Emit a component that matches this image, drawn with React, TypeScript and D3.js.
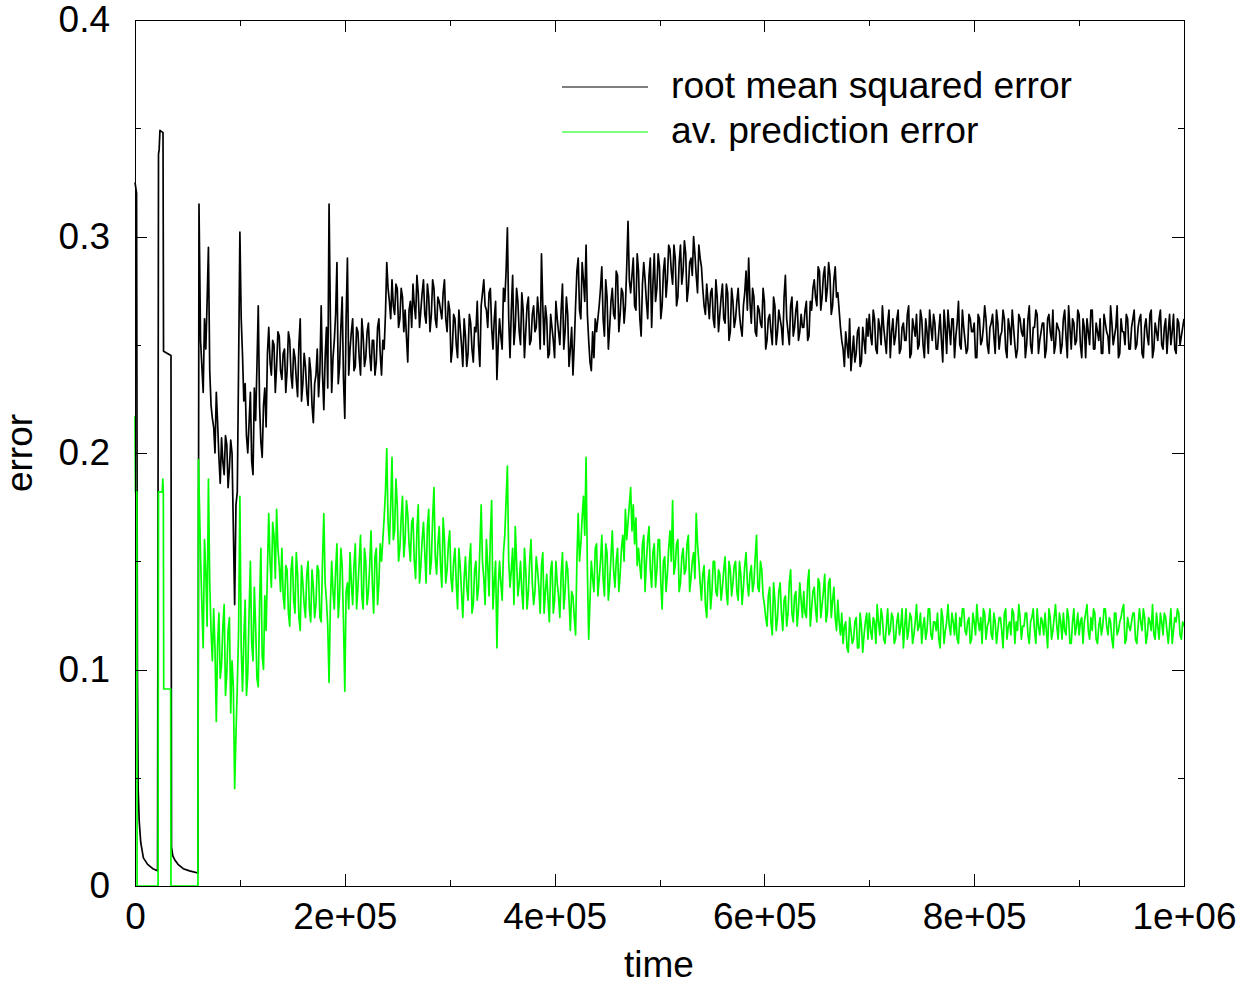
import React, { useEffect, useRef } from "react";
import * as d3 from "d3";

// start of the run, sampled where the curves jump
const rmseEarlyTime = [0, 1500, 2300, 3000, 4000, 5500, 8000, 12000, 17000, 21500, 22400, 23000, 23800, 26700, 27200, 34300, 34800, 36000, 38000, 41000, 46000, 52000, 60000, 61000];
const rmseEarlyValue = [0.325, 0.32, 0.1, 0.045, 0.03, 0.02, 0.013, 0.01, 0.008, 0.007, 0.338, 0.34, 0.349, 0.348, 0.247, 0.245, 0.018, 0.014, 0.012, 0.01, 0.008, 0.007, 0.006, 0.315];
const predEarlyTime = [0, 400, 1800, 2000, 22000, 22400, 26000, 26500, 27000, 27400, 34000, 34300, 60000, 60500];
const predEarlyValue = [0.217, 0.182, 0.182, 0, 0, 0.182, 0.182, 0.188, 0.182, 0.091, 0.091, 0, 0, 0.197];

// from t = 62500 on, readings every 2500 steps (values in 1e-3),
// plus the readings half a step later
const sampleStart = 62500;
const sampleStep = 2500;

const rmseMilli = [
  252, 228, 248, 295, 222,
  212, 228, 198, 207, 190, 204, 193, 200, 130, 182, 302,
  245, 232, 200, 228, 190, 215, 268, 205, 222, 212,
  258, 236, 250, 240, 254, 234, 248, 238, 252, 230, 244, 226, 262, 232, 240, 222, 238, 214, 236, 226, 268, 220, 258, 315,
  228, 252, 288, 240, 272, 216, 290,
  248, 262, 240, 256, 236, 254, 244, 260, 238, 252, 242, 262, 236, 248, 288,
  270, 280, 264, 276, 262, 272, 266, 242, 270,
  278, 262, 274, 266, 280, 260, 272, 264, 276, 258, 270, 262,
  280, 256, 266, 248, 262, 244, 258, 240, 254, 246, 260, 242, 256, 250, 268, 280,
  266, 274, 258, 262, 234,
  262, 248, 270, 304, 244, 282, 258, 270, 250, 266, 256, 272, 252, 268, 258, 264,
  292,
  250, 262, 246, 258, 244, 262, 250, 278, 256, 264,
  248, 236, 268, 290,
  262, 280, 296, 252, 238, 244,
  256, 268, 286, 254, 272, 258, 276, 262, 282, 264, 274, 268,
  307,
  274, 290, 266, 284, 254, 288, 270, 282, 258, 292, 276, 286, 268, 290, 280,
  294, 278, 290, 272, 296, 284, 292, 276, 290, 300, 282, 296,
  286, 268, 278,
  262, 276, 258, 272, 264, 278, 260, 274, 256, 270, 262, 276, 258, 268, 284, 290, 260, 272, 254, 266, 258, 270, 252,
  264, 250, 268, 256, 262, 250, 282, 256, 268, 254, 266, 252, 264,
  258, 270, 254, 266,
  280, 268, 284, 272, 286, 276, 282, 268, 286, 274,
  258,
  248, 256, 244, 238, 254, 246, 258, 242, 252, 262,
  264, 250, 262, 246, 258, 268, 252, 260, 244, 262,
  254, 266, 248, 260, 252, 268, 246, 258, 264, 250,
  262, 244, 256, 266, 252, 260, 248, 264, 242, 258,
  266, 250, 262, 254, 270, 248, 258, 246, 264, 256,
  260, 244, 262, 252, 268, 250, 258, 264, 246, 260,
  254, 266, 248, 262, 250, 258, 244, 264, 256, 262,
  250, 268, 246, 258, 264, 252, 260, 244, 262, 256,
  266, 250, 258, 246, 262, 254, 268, 248, 260, 252,
  264, 244, 258, 262, 250, 266, 248, 256, 262, 246,
  260, 254, 268, 250, 258, 244, 262, 256, 264, 248,
  258, 266, 250, 262, 246, 258, 254, 264, 244, 260,
  252, 266, 248, 262, 256, 250, 264, 246, 260, 254,
  262,
];

const rmseMilliMid = [
  240, 262, 270, 238, 216,
  200, 214, 186, 196, 208, 184, 206, 165, 176, 240, 262,
  224, 208, 214, 196, 230, 240, 222, 198, 230, 246,
  242, 252, 228, 256, 238, 246, 228, 256, 236, 248, 234, 250, 224, 246, 228, 244, 222, 232, 248, 238, 236, 244, 230, 262,
  244, 264, 232, 258, 234, 262, 236,
  256, 238, 258, 244, 262, 240, 256, 246, 252, 236, 258, 246, 252, 264, 276,
  262, 268, 278, 258, 276, 256, 254, 266, 258,
  268, 282, 258, 274, 264, 278, 256, 280, 262, 272, 266, 274,
  262, 270, 242, 264, 250, 266, 250, 262, 240, 264, 248, 258, 270, 240, 274, 268,
  258, 276, 248, 270, 250,
  254, 276, 284, 262, 266, 250, 276, 256, 274, 244, 268, 250, 264, 256, 272, 248,
  268,
  268, 244, 264, 252, 270, 256, 266, 248, 272, 240,
  258, 250, 284, 266,
  288, 270, 264, 242, 256, 262,
  262, 276, 262, 280, 248, 270, 264, 284, 256, 276, 260, 286,
  280,
  282, 268, 292, 262, 278, 280, 262, 290, 278, 270, 292, 262, 284, 272, 296,
  284, 296, 268, 288, 278, 298, 270, 288, 282, 292, 274, 290,
  276, 264, 270,
  274, 262, 280, 256, 272, 262, 278, 252, 276, 258, 270, 264, 254, 274, 266, 270, 276, 256, 268, 260, 276, 248, 262,
  256, 272, 250, 266, 258, 272, 262, 250, 272, 258, 270, 256, 258,
  266, 252, 270, 276,
  272, 286, 266, 282, 270, 288, 264, 280, 272, 266,
  252,
  240, 250, 262, 246, 242, 256, 240, 258, 246, 254,
  254, 266, 248, 262, 250, 258, 246, 266, 256, 250,
  262, 246, 258, 252, 264, 244, 262, 254, 248, 266,
  250, 262, 246, 258, 264, 248, 256, 252, 266, 246,
  258, 262, 244, 260, 250, 266, 252, 248, 262, 256,
  244, 264, 250, 258, 262, 246, 260, 254, 266, 248,
  256, 262, 244, 258, 266, 250, 248, 262, 254, 244,
  262, 250, 258, 266, 246, 256, 260, 248, 264, 252,
  246, 260, 256, 250, 266, 244, 258, 262, 250, 266,
  250, 262, 244, 256, 266, 248, 260, 252, 246, 264,
  256, 246, 260, 254, 268, 246, 256, 250, 262, 248,
  262, 248, 258, 264, 244, 262, 250, 266, 248, 256,
  262, 250, 258, 246, 264, 256, 248, 262, 250, 258,
];

const predMilli = [
  152, 110, 145, 188, 118,
  128, 76, 126, 102, 130, 98, 124, 104, 45, 92,
  180,
  90, 132, 98, 150, 104, 120, 92, 156, 100, 118,
  172, 138, 162, 174, 148,
  156, 128, 146, 120, 152, 126, 144, 118, 140, 124, 150, 122, 138,
  130, 146, 122, 172, 132, 94,
  150, 128, 158, 134, 148, 90, 140, 154,
  130, 158, 138, 162, 128, 150, 136, 164, 126, 156, 140,
  150, 170, 202, 158, 198, 164, 176, 156, 180, 160, 172, 150,
  170, 142, 176, 148, 168, 140, 174, 150, 184, 144, 166, 138, 160, 146, 164,
  136, 156, 128, 148, 124, 152, 132, 158, 130, 150, 138, 176, 142, 160, 134, 178, 140, 110,
  150, 132, 162, 194, 138, 156, 166, 134, 150, 128, 146, 136, 160, 130, 152, 138, 148, 126, 144, 122, 150, 132, 140, 124, 154, 136, 146, 118,
  134, 116,
  172, 158, 180, 198,
  114,
  150, 136, 158, 142, 162, 134, 154, 140, 164, 138, 156, 144,
  162, 174, 168, 184, 176, 170,
  156, 142, 162, 150, 166, 138, 158, 146, 160, 128, 152, 144, 164, 178, 148, 160, 140, 156, 146, 162, 142, 154, 172, 150,
  132, 148, 124, 146, 136, 150, 134, 144, 138, 152, 130, 146, 140, 150, 132, 144, 138, 154, 134, 148, 140, 162, 136, 146,
  130, 120, 138, 116, 132, 124, 140, 118, 134, 126, 146, 122, 136, 128, 132,
  136, 124, 146, 128, 138, 122, 140, 130, 144, 126, 142, 132,
  124, 132, 116,
  112, 122, 108, 118, 114, 124, 110, 120, 116, 126,
  126, 114, 122, 130, 116, 124, 112, 128, 118, 124,
  114, 126, 120, 110, 128, 118, 124, 116, 130, 120,
  112, 124, 118, 128, 114, 122, 126, 110, 124, 118,
  130, 116, 122, 126, 112, 120, 128, 116, 124, 114,
  122, 130, 118, 112, 126, 120, 128, 114, 122, 118,
  124, 110, 128, 120, 116, 126, 122, 130, 114, 120,
  126, 112, 124, 118, 128, 116, 122, 126, 110, 124,
  118, 130, 114, 122, 126, 116, 124, 112, 128, 120,
  116, 124, 122, 130, 114, 118, 126, 112, 124, 120,
  128, 116, 122, 110, 126, 118, 124, 130, 114, 120,
  122, 126, 112, 128, 118, 124, 116, 122, 130, 114,
  120, 126, 116, 124, 112, 128, 118, 122, 126, 114,
  120,
];

const predMilliMid = [
  130, 160, 120, 140, 104,
  110, 112, 96, 120, 88, 118, 80, 92, 70, 118,
  110,
  114, 88, 126, 112, 138, 96, 130, 106, 134, 146,
  150, 168, 142, 156, 136,
  134, 148, 126, 146, 132, 154, 124, 148, 130, 144, 128, 146, 124,
  148, 124, 150, 140, 120, 130,
  136, 146, 124, 156, 122, 136, 128, 140,
  148, 128, 150, 134, 156, 130, 148, 140, 152, 130, 158,
  160, 182, 168, 176, 160, 188, 150, 170, 152, 178, 158, 168,
  150, 164, 140, 160, 154, 166, 144, 170, 152, 158, 148, 170, 140, 158, 142,
  150, 140, 156, 136, 142, 138, 150, 126, 146, 132, 156, 150, 130, 148, 162, 128, 150, 138,
  140, 154, 178, 150, 146, 130, 150, 140, 136, 156, 128, 150, 140, 136, 146, 126, 154, 136, 132, 146, 126, 150, 134, 144, 128, 150, 132, 136,
  124, 150,
  150, 170, 162, 146,
  132,
  142, 156, 134, 150, 142, 158, 132, 152, 146, 150, 136, 156,
  150, 160, 176, 164, 158, 148,
  148, 158, 136, 160, 146, 154, 138, 160, 140, 150, 136, 156, 150, 144, 158, 136, 152, 144, 158, 136, 150, 142, 158, 140,
  144, 130, 140, 128, 150, 136, 146, 132, 146, 136, 150, 134, 148, 136, 150, 130, 148, 140, 144, 136, 152, 138, 150, 134,
  124, 134, 122, 140, 118, 136, 126, 132, 120, 140, 126, 134, 120, 140, 124,
  126, 140, 120, 136, 128, 142, 124, 136, 122, 140, 124, 138,
  118, 122, 126,
  120, 110, 124, 112, 122, 110, 126, 108, 122, 114,
  118, 124, 112, 122, 128, 114, 120, 116, 126, 112,
  122, 116, 128, 120, 114, 126, 112, 122, 118, 126,
  120, 114, 128, 116, 122, 118, 114, 128, 112, 122,
  120, 126, 116, 114, 124, 128, 118, 122, 112, 126,
  116, 122, 124, 128, 114, 122, 116, 126, 112, 124,
  118, 126, 114, 122, 128, 112, 118, 124, 120, 126,
  116, 122, 128, 112, 120, 124, 116, 118, 128, 114,
  124, 120, 126, 114, 118, 128, 112, 122, 116, 126,
  122, 112, 126, 118, 124, 128, 114, 120, 116, 128,
  120, 124, 114, 126, 116, 122, 128, 112, 124, 118,
  126, 114, 120, 122, 128, 112, 124, 118, 116, 126,
  114, 122, 126, 118, 120, 112, 124, 128, 116, 122,
];

const seriesNames = ["root mean squared error", "av. prediction error"];
const seriesColors = ["#000000", "#00ff00"];

const xTicks = [0, 200000, 400000, 600000, 800000, 1000000];
const xTickLabels = ["0", "2e+05", "4e+05", "6e+05", "8e+05", "1e+06"];
const xMinorTicks = [100000, 300000, 500000, 700000, 900000];
const yTicks = [0, 0.1, 0.2, 0.3, 0.4];
const yTickLabels = ["0", "0.1", "0.2", "0.3", "0.4"];
const yMinorTicks = [0.05, 0.15, 0.25, 0.35];

const FONT = "'Liberation Sans', Arial, Helvetica, sans-serif";

type Pt = [number, number];

const build = (times: number[], vals: number[], milli: number[], milliMid: number[]) => {
  const early: Pt[] = times.map((t, i) => [t, vals[i]]);
  const regular: Pt[] = milli.map((m, i) => [sampleStart + i * sampleStep, m / 1000]);
  const mid: Pt[] = milliMid.map((m, i) => [sampleStart + sampleStep / 2 + i * sampleStep, m / 1000]);
  return early.concat(regular.concat(mid).sort((a, b) => a[0] - b[0]));
};

const App = () => {
  const axesRef = useRef<SVGGElement>(null);

  const width = 1250;
  const height = 989;
  const left = 135, right = 1184, top = 20, bottom = 886;

  const x = d3.scaleLinear().domain([0, 1000000]).range([left, right]);
  const y = d3.scaleLinear().domain([0, 0.4]).range([bottom, top]);

  const rmse = build(rmseEarlyTime, rmseEarlyValue, rmseMilli, rmseMilliMid);
  const pred = build(predEarlyTime, predEarlyValue, predMilli, predMilliMid);

  const line = d3
    .line<Pt>()
    .x((d) => x(d[0]))
    .y((d) => y(d[1]));

  useEffect(() => {
    const g = d3.select(axesRef.current);
    g.selectAll("*").remove();

    const style = (sel: any) => {
      sel.select(".domain").remove();
      sel.attr("font-size", 37).attr("font-family", FONT).attr("color", "#000");
      sel.selectAll("line").attr("stroke-width", 1).attr("shape-rendering", "crispEdges");
      sel.selectAll("text").attr("fill", "#000");
    };

    // bottom / left with labels
    g.append("g")
      .attr("transform", `translate(0,${bottom})`)
      .call(d3.axisBottom(x).tickValues(xTicks).tickFormat((_d, i) => xTickLabels[i]).tickSize(-12).tickPadding(17))
      .call(style);
    g.append("g")
      .attr("transform", `translate(${left},0)`)
      .call(d3.axisLeft(y).tickValues(yTicks).tickFormat((_d, i) => yTickLabels[i]).tickSize(-12).tickPadding(25))
      .call(style);

    // mirrored ticks on top and right
    g.append("g")
      .attr("transform", `translate(0,${top})`)
      .call(d3.axisTop(x).tickValues(xTicks).tickFormat(() => "").tickSize(-12))
      .call(style);
    g.append("g")
      .attr("transform", `translate(${right},0)`)
      .call(d3.axisRight(y).tickValues(yTicks).tickFormat(() => "").tickSize(-12))
      .call(style);

    // minor ticks
    g.append("g")
      .attr("transform", `translate(0,${bottom})`)
      .call(d3.axisBottom(x).tickValues(xMinorTicks).tickFormat(() => "").tickSize(-6))
      .call(style);
    g.append("g")
      .attr("transform", `translate(0,${top})`)
      .call(d3.axisTop(x).tickValues(xMinorTicks).tickFormat(() => "").tickSize(-6))
      .call(style);
    g.append("g")
      .attr("transform", `translate(${left},0)`)
      .call(d3.axisLeft(y).tickValues(yMinorTicks).tickFormat(() => "").tickSize(-6))
      .call(style);
    g.append("g")
      .attr("transform", `translate(${right},0)`)
      .call(d3.axisRight(y).tickValues(yMinorTicks).tickFormat(() => "").tickSize(-6))
      .call(style);
  }, []);

  return (
    <svg
      width={width}
      height={height}
      style={{ position: "absolute", left: 0, top: 0, background: "#fff" }}
      fontFamily={FONT}
    >
      <rect x={0} y={0} width={width} height={height} fill="#fff" />

      <path d={line(rmse) ?? ""} fill="none" stroke={seriesColors[0]} strokeWidth={1.7} strokeLinejoin="round" />
      <path d={line(pred) ?? ""} fill="none" stroke={seriesColors[1]} strokeWidth={1.7} strokeLinejoin="round" />

      <g ref={axesRef} />

      <rect
        x={left}
        y={top}
        width={right - left}
        height={bottom - top}
        fill="none"
        stroke="#000"
        strokeWidth={1}
        shapeRendering="crispEdges"
      />

      {/* legend */}
      {seriesNames.map((name, i) => (
        <g key={name} transform={`translate(0,${87 + i * 45})`}>
          <line x1={562} x2={648} y1={0} y2={0} stroke={seriesColors[i]} strokeWidth={1.2} />
          <text x={671} y={11} fontSize={37.2} fill="#000">
            {name}
          </text>
        </g>
      ))}

      <text x={659} y={977} fontSize={37} textAnchor="middle" fill="#000">
        time
      </text>
      <text transform="translate(32,453) rotate(-90)" fontSize={37} textAnchor="middle" fill="#000">
        error
      </text>
    </svg>
  );
};

export default App;
